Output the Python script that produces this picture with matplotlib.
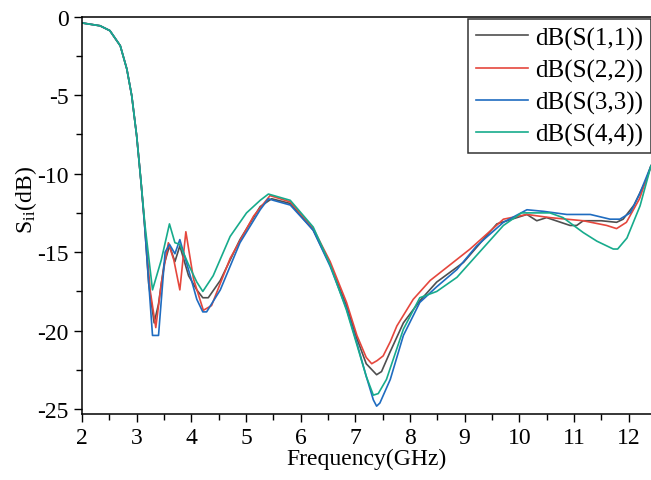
import numpy as np
import matplotlib
matplotlib.use("Agg")
import matplotlib.pyplot as plt
from matplotlib.ticker import MultipleLocator

plt.rcParams['font.family'] = 'Liberation Serif'
plt.rcParams['mathtext.fontset'] = 'stix'

# S11 (grey)
f11 = [2.0, 2.33, 2.51, 2.70, 2.82, 2.91, 3.00, 3.08, 3.14, 3.22, 3.32, 3.40, 3.50, 3.60, 3.70,
       3.79, 3.95, 4.10, 4.21, 4.31, 4.53, 4.89, 5.26, 5.47, 5.81, 6.23, 6.54, 6.84, 7.03, 7.20,
       7.39, 7.48, 7.63, 7.88, 8.18, 8.49, 8.98, 9.59, 10.14, 10.32, 10.50, 10.93, 11.05, 11.17,
       11.50, 11.78, 11.90, 12.10, 12.33, 12.41]
s11 = [-0.41, -0.59, -0.90, -1.86, -3.34, -5.04, -7.59, -10.54, -13.0, -17.0, -19.5, -18.3, -15.8,
       -14.6, -15.6, -14.6, -16.5, -17.4, -17.9, -17.9, -16.8, -14.2, -12.1, -11.6, -11.9, -13.6,
       -15.8, -18.4, -20.5, -22.1, -22.8, -22.6, -21.4, -19.5, -18.1, -16.9, -15.65, -13.2, -12.6,
       -13.0, -12.8, -13.3, -13.3, -13.0, -13.0, -13.1, -12.9, -12.0, -10.35, -9.5]

# S22 (red)
f22 = [2.0, 2.33, 2.51, 2.70, 2.82, 2.91, 3.00, 3.08, 3.14, 3.25, 3.35, 3.45, 3.58, 3.68, 3.79,
       3.90, 4.04, 4.22, 4.37, 4.71, 5.14, 5.44, 5.81, 6.23, 6.54, 6.84, 7.03, 7.20, 7.30, 7.40,
       7.51, 7.64, 7.76, 8.06, 8.37, 8.79, 9.10, 9.71, 10.14, 10.56, 11.17, 11.60, 11.78, 11.96,
       12.20, 12.41]
s22 = [-0.41, -0.59, -0.90, -1.86, -3.34, -5.04, -7.59, -10.54, -13.0, -17.5, -19.8, -17.0, -14.4,
       -15.5, -17.4, -13.7, -16.7, -18.7, -18.4, -15.4, -12.7, -11.4, -11.8, -13.5, -15.6, -18.2,
       -20.3, -21.7, -22.1, -21.9, -21.6, -20.7, -19.7, -18.0, -16.8, -15.65, -14.8, -12.9, -12.6,
       -12.8, -13.0, -13.3, -13.5, -13.1, -11.6, -9.5]

# S33 (blue)
f33 = [2.0, 2.33, 2.51, 2.70, 2.82, 2.91, 3.00, 3.08, 3.15, 3.29, 3.40, 3.52, 3.60, 3.70, 3.79,
       3.98, 4.10, 4.21, 4.28, 4.53, 4.89, 5.26, 5.41, 5.50, 5.81, 6.23, 6.54, 6.84, 7.03, 7.20,
       7.33, 7.39, 7.45, 7.64, 7.88, 8.18, 8.49, 8.86, 9.22, 9.71, 10.14, 10.44, 10.87, 11.30,
       11.66, 11.84, 12.03, 12.20, 12.41]
s33 = [-0.41, -0.59, -0.90, -1.86, -3.34, -5.04, -7.59, -10.54, -13.5, -20.3, -20.3, -15.0, -14.5,
       -15.1, -14.2, -16.5, -18.0, -18.8, -18.8, -17.4, -14.4, -12.3, -11.6, -11.7, -12.0, -13.6,
       -15.9, -18.6, -20.8, -22.9, -24.4, -24.8, -24.6, -23.1, -20.3, -18.2, -17.2, -16.1, -14.6,
       -13.1, -12.3, -12.4, -12.6, -12.6, -12.9, -12.9, -12.5, -11.3, -9.5]

# S44 (green)
f44 = [2.0, 2.33, 2.51, 2.70, 2.82, 2.91, 3.00, 3.08, 3.15, 3.29, 3.45, 3.60, 3.70, 3.79, 3.95,
       4.10, 4.21, 4.40, 4.71, 5.01, 5.26, 5.41, 5.81, 6.23, 6.54, 6.84, 7.03, 7.20, 7.33, 7.42,
       7.57, 7.88, 8.18, 8.49, 8.86, 9.22, 9.71, 10.04, 10.56, 10.80, 11.17, 11.42, 11.72, 11.80,
       11.97, 12.21, 12.41]
s44 = [-0.41, -0.59, -0.90, -1.86, -3.34, -5.04, -7.59, -10.54, -13.2, -17.4, -15.5, -13.2, -14.4,
       -14.5, -15.8, -16.9, -17.5, -16.5, -14.0, -12.5, -11.7, -11.3, -11.7, -13.4, -15.8, -18.7,
       -20.9, -22.9, -24.1, -24.0, -23.1, -19.9, -17.9, -17.5, -16.6, -15.2, -13.3, -12.5, -12.5,
       -12.8, -13.75, -14.3, -14.8, -14.8, -14.1, -12.05, -9.5]

labels = ['dB(S(1,1))', 'dB(S(2,2))', 'dB(S(3,3))', 'dB(S(4,4))']
colors = ['#4f4f4f', '#e5473d', '#1f6cc0', '#17ab8c']

fig = plt.figure(figsize=(6.51, 4.81), dpi=100)
ax = fig.add_axes([82 / 651, 66 / 481, 1 - 82 / 651, (463.5 - 66) / 481])

for fx, sy, lab, c in zip([f11, f22, f33, f44], [s11, s22, s33, s44], labels, colors):
    ax.plot(fx, sy, color=c, lw=1.2, label=lab)

ax.set_xlim(2, 12.41)
ax.set_ylim(-25.3, 0)
ax.xaxis.set_major_locator(MultipleLocator(1))
ax.xaxis.set_minor_locator(MultipleLocator(0.5))
ax.yaxis.set_minor_locator(MultipleLocator(2.5))
ax.tick_params(which='major', direction='out', length=6, width=1, labelsize=17)
ax.tick_params(which='minor', direction='out', length=4, width=1)
ax.spines['right'].set_visible(False)
for s in ['left', 'bottom', 'top']:
    ax.spines[s].set_linewidth(1.1)

ax.set_yticks([0, -5, -10, -15, -20, -25])
ax.set_yticklabels(['0', '-5', '-10', '-15', '-20', '-25'])

ax.set_xlabel('Frequency(GHz)', fontsize=17, labelpad=0)
ax.set_ylabel(r'S$_{\mathregular{ii}}$(dB)', fontsize=17)
ax.yaxis.set_label_coords(-0.076, 0.54)

leg = ax.legend(loc='upper left', bbox_to_anchor=(468 / 651, 1 - 20 / 481),
                bbox_transform=fig.transFigure, fontsize=18, frameon=True,
                fancybox=False, borderaxespad=0, borderpad=0.3, handlelength=2.1,
                handletextpad=0.3, labelspacing=0.36)
leg.get_frame().set_edgecolor('black')
leg.get_frame().set_linewidth(1.1)

fig.savefig('out.png', dpi=100)
